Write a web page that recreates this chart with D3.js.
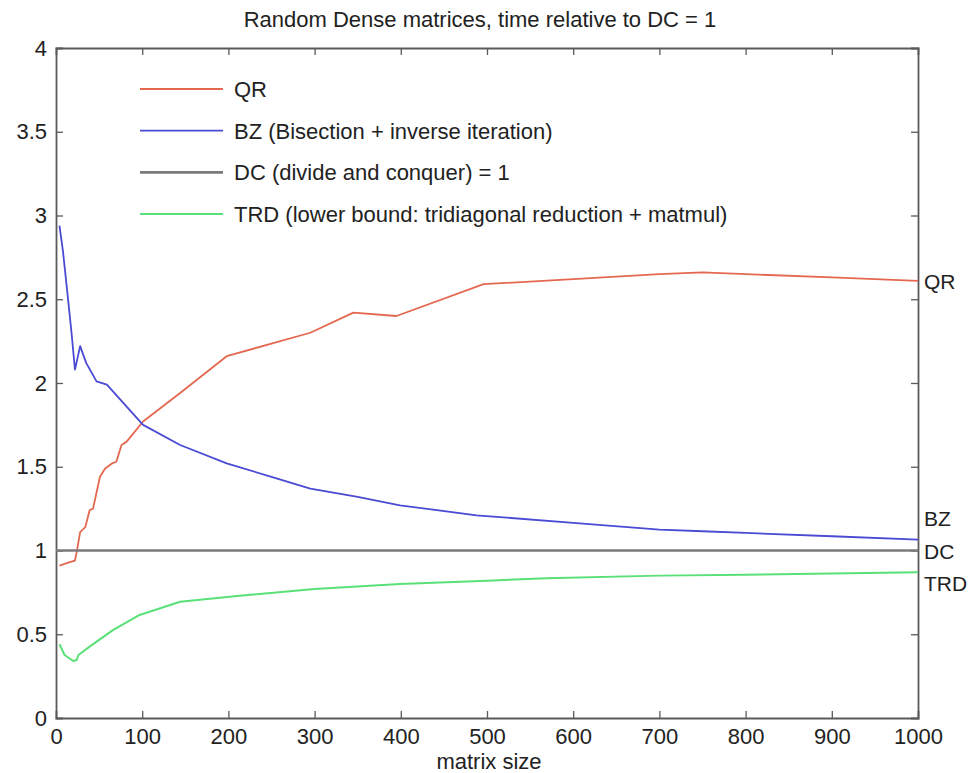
<!DOCTYPE html>
<html>
<head>
<meta charset="utf-8">
<script src="https://cdn.jsdelivr.net/npm/d3@7"></script>
<style>
  body { margin: 0; background: #fff; }
  svg text { font-family: "Liberation Sans", Arial, Helvetica, sans-serif; fill: #222; }
</style>
</head>
<body>
<div id="chart"></div>
<script>
// values
var qr_x = [4, 10, 16, 22, 24, 28, 34, 39, 43, 51, 57, 65, 70, 76, 82, 101, 144, 198, 295, 345, 395, 496, 600, 700, 750, 800, 900, 1000];
var qr_y = [0.91, 0.92, 0.93, 0.94, 0.99, 1.11, 1.14, 1.24, 1.25, 1.44, 1.49, 1.52, 1.53, 1.63, 1.65, 1.77, 1.94, 2.16, 2.30, 2.42, 2.40, 2.59, 2.62, 2.65, 2.66, 2.65, 2.63, 2.61];

var bz_x = [4, 8, 14, 18, 22, 28, 35, 47, 59, 101, 144, 198, 250, 295, 350, 399, 488, 600, 700, 750, 800, 900, 1000];
var bz_y = [2.94, 2.79, 2.50, 2.30, 2.08, 2.22, 2.12, 2.01, 1.99, 1.75, 1.63, 1.52, 1.44, 1.37, 1.32, 1.27, 1.21, 1.165, 1.125, 1.115, 1.105, 1.085, 1.065];

var dc_x = [0, 1000];
var dc_y = [1, 1];

var trd_x = [4, 10, 20, 24, 26, 39, 66, 97, 144, 213, 300, 399, 500, 569, 700, 800, 900, 1000];
var trd_y = [0.44, 0.376, 0.34, 0.346, 0.376, 0.426, 0.525, 0.615, 0.694, 0.73, 0.77, 0.80, 0.82, 0.834, 0.85, 0.855, 0.862, 0.87];

var legendNames = ["QR", "BZ (Bisection + inverse iteration)", "DC (divide and conquer) = 1", "TRD (lower bound: tridiagonal reduction + matmul)"];
var endLabels = ["QR", "BZ", "DC", "TRD"];
var xTicks = [0, 100, 200, 300, 400, 500, 600, 700, 800, 900, 1000];
var yTicks = [0, 0.5, 1, 1.5, 2, 2.5, 3, 3.5, 4];

var colors = ["#e4684f", "#4a4ad4", "#7a7a7a", "#5ae078"];
var widths = [1.8, 1.8, 2.6, 2];

var series = [
  { x: qr_x, y: qr_y },
  { x: bz_x, y: bz_y },
  { x: dc_x, y: dc_y },
  { x: trd_x, y: trd_y }
];

var W = 972, H = 773;
var plotL = 56, plotR = 918, plotT = 48, plotB = 718;

var x = d3.scaleLinear().domain([0, 1000]).range([plotL, plotR]);
var y = d3.scaleLinear().domain([0, 4]).range([plotB, plotT]);

var svg = d3.select("#chart").append("svg")
  .attr("width", W).attr("height", H);

// title
svg.append("text")
  .attr("x", 480).attr("y", 27)
  .attr("text-anchor", "middle")
  .style("font-size", "22px")
  .text("Random Dense matrices, time relative to DC = 1");

// axes with inward ticks (matlab style box)
var tk = 7;
var axB = svg.append("g").attr("transform", "translate(0," + plotB + ")")
  .call(d3.axisBottom(x).tickValues(xTicks).tickSize(-tk).tickPadding(10).tickFormat(d3.format("d")));
var axT = svg.append("g").attr("transform", "translate(0," + plotT + ")")
  .call(d3.axisTop(x).tickValues(xTicks).tickSize(-tk).tickFormat(""));
var axL = svg.append("g").attr("transform", "translate(" + plotL + ",0)")
  .call(d3.axisLeft(y).tickValues(yTicks).tickSize(-tk).tickPadding(9).tickFormat(function(d){ return d; }));
var axR = svg.append("g").attr("transform", "translate(" + plotR + ",0)")
  .call(d3.axisRight(y).tickValues(yTicks).tickSize(-tk).tickFormat(""));

[axB, axT, axL, axR].forEach(function(a) {
  a.select(".domain").attr("stroke", "#5a5a5a").attr("stroke-width", 1.8);
  a.selectAll(".tick line").attr("stroke", "#5a5a5a").attr("stroke-width", 1.3);
  a.selectAll(".tick text").style("font-size", "22px").attr("fill", "#222");
});
// drop the edge ticks that sit on the frame
[axB, axT].forEach(function(a) {
  a.selectAll(".tick line").filter(function(d){ return d === 0 || d === 1000; }).remove();
});
[axL, axR].forEach(function(a) {
  a.selectAll(".tick line").filter(function(d){ return d === 0 || d === 4; }).remove();
});

// x label
svg.append("text")
  .attr("x", 489).attr("y", 769)
  .attr("text-anchor", "middle")
  .style("font-size", "22px")
  .text("matrix size");

var line = d3.line()
  .x(function(d){ return x(d[0]); })
  .y(function(d){ return y(d[1]); });

series.forEach(function(s, i) {
  var pts = s.x.map(function(v, j){ return [v, s.y[j]]; });
  svg.append("path")
    .datum(pts)
    .attr("d", line)
    .attr("fill", "none")
    .attr("stroke", colors[i])
    .attr("stroke-width", widths[i])
    .attr("stroke-linejoin", "round");
});

// legend
var legend = svg.selectAll(".legend")
  .data(legendNames)
  .enter().append("g")
  .attr("class", "legend")
  .attr("transform", function(d, i){ return "translate(140," + (89 + i * 41.7) + ")"; });

legend.append("line")
  .attr("x1", 0).attr("x2", 83).attr("y1", 0).attr("y2", 0)
  .attr("stroke", function(d, i){ return colors[i]; })
  .attr("stroke-width", function(d, i){ return widths[i]; });

legend.append("text")
  .attr("x", 94).attr("y", 8)
  .style("font-size", "22px")
  .text(function(d){ return d; });

// labels at the right end of each curve
var endOffsets = [0, -22, 0, 11];
svg.selectAll(".endlabel")
  .data(series)
  .enter().append("text")
  .attr("class", "endlabel")
  .attr("x", plotR + 6)
  .attr("y", function(s, i){ return y(s.y[s.y.length - 1]) + endOffsets[i] + 8; })
  .style("font-size", "21px")
  .text(function(s, i){ return endLabels[i]; });
</script>
</body>
</html>
